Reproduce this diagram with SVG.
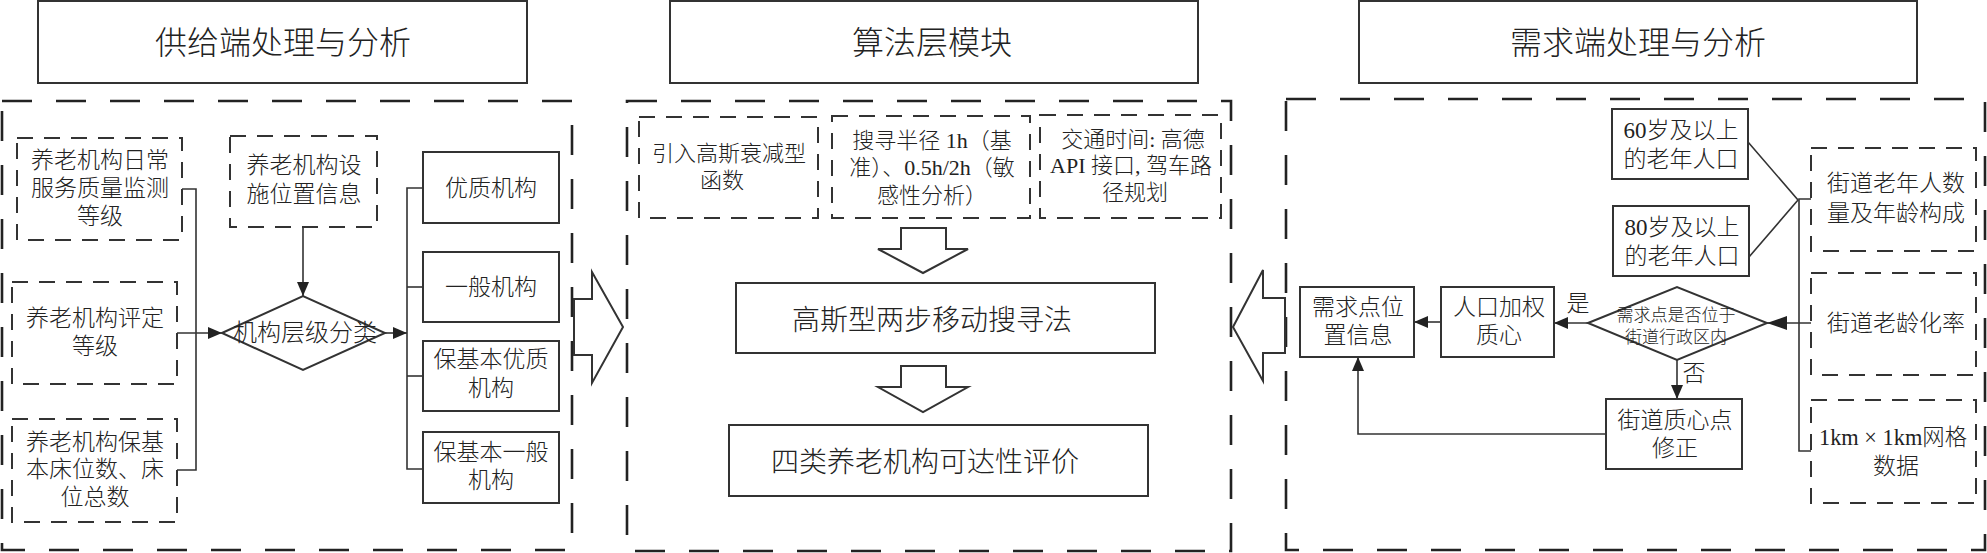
<svg xmlns="http://www.w3.org/2000/svg" width="1987" height="553" viewBox="0 0 1987 553">
<defs>
<style>
text { font-family: "Liberation Serif", "Noto Sans CJK SC", serif; font-weight:300; fill:#222; text-anchor:middle; dominant-baseline:central; }
.t32 { font-size:32px; }
.t28 { font-size:28px; }
.t24 { font-size:24px; }
.t23 { font-size:23px; }
.t22 { font-size:22px; }
.t17 { font-size:17px; }
.box { fill:#fff; stroke:#333; stroke-width:2; }
.outer { fill:none; stroke:#222; stroke-width:2.6; stroke-dasharray:30 24; }
.dbox { fill:none; stroke:#333; stroke-width:2; stroke-dasharray:16 11; }
.ln { fill:none; stroke:#333; stroke-width:1.6; }
.arr { marker-end:url(#ah); }
.arrb { marker-end:url(#ahb); }
.hollow { fill:#fff; stroke:#333; stroke-width:2; stroke-linejoin:miter; }
</style>
<marker id="ah" viewBox="0 0 14 12" refX="14" refY="6" markerWidth="14" markerHeight="12" markerUnits="userSpaceOnUse" orient="auto"><path d="M0,0 L14,6 L0,12 z" fill="#222"/></marker>
<marker id="ahb" viewBox="0 0 20 14" refX="20" refY="7" markerWidth="20" markerHeight="14" markerUnits="userSpaceOnUse" orient="auto"><path d="M0,0 L20,7 L0,14 z" fill="#222"/></marker>
</defs>
<rect width="1987" height="553" fill="#fff"/>

<!-- panels -->
<g id="panel-supply"><rect class="outer" x="2" y="101" width="570" height="449"/></g>
<g id="panel-algo"><rect class="outer" x="627" y="101" width="604" height="450"/></g>
<g id="panel-demand"><rect class="outer" x="1286" y="99" width="699" height="451"/></g>

<!-- titles -->
<g id="title-supply"><rect class="box" x="38" y="1" width="489" height="82"/><text class="t32" x="283" y="43">供给端处理与分析</text></g>
<g id="title-algo"><rect class="box" x="670" y="1" width="528" height="82"/><text class="t32" x="932" y="43">算法层模块</text></g>
<g id="title-demand"><rect class="box" x="1359" y="1" width="558" height="82"/><text class="t32" x="1638" y="43">需求端处理与分析</text></g>

<!-- connectors -->
<g id="connectors">
<polyline class="ln" points="182,189 196,189 196,470 177,470"/>
<line class="ln arr" x1="177" y1="333" x2="222" y2="333"/>
<line class="ln arr" x1="303" y1="227" x2="303" y2="296"/>
<line class="ln arr" x1="385" y1="333" x2="407" y2="333"/>
<polyline class="ln" points="423,188 407,188 407,469 423,469"/>
<line class="ln" x1="407" y1="287" x2="423" y2="287"/>
<line class="ln" x1="407" y1="376" x2="423" y2="376"/>
<polygon class="hollow" points="574,299 592,299 592,272 623,327 592,383 592,355 574,355"/>
<polygon class="hollow" points="901,228 946,228 946,249 968,249 923,273 878,249 901,249"/>
<polygon class="hollow" points="901,366 946,366 946,387 968,387 923,412 878,387 901,387"/>
<polygon class="hollow" points="1285,298 1263,298 1263,270 1233,327 1263,381 1263,353 1285,353"/>
<line class="ln arr" x1="1441" y1="322" x2="1414" y2="322"/>
<line class="ln arr" x1="1588" y1="323" x2="1554" y2="323"/>
<line class="ln arr" x1="1677" y1="360" x2="1677" y2="399"/>
<polyline class="ln arr" points="1606,434 1358,434 1358,357"/>
<line class="ln arrb" x1="1811" y1="323" x2="1767" y2="323"/>
<polyline class="ln" points="1748,142 1798,200 1749,257"/>
<polyline class="ln" points="1811,199 1799,199 1799,451 1811,451"/>
<text class="t23" x="1578" y="303">是</text>
<text class="t23" x="1694" y="373">否</text>
</g>

<!-- supply nodes -->
<g id="s-quality"><rect class="dbox" x="17" y="138" width="165" height="102"/><text class="t23" x="100" y="160">养老机构日常</text><text class="t23" x="100" y="188">服务质量监测</text><text class="t23" x="100" y="216">等级</text></g>
<g id="s-rating"><rect class="dbox" x="12" y="282" width="165" height="102"/><text class="t23" x="95" y="318">养老机构评定</text><text class="t23" x="95" y="346">等级</text></g>
<g id="s-beds"><rect class="dbox" x="12" y="419" width="165" height="103"/><text class="t23" x="95" y="442">养老机构保基</text><text class="t23" x="95" y="469">本床位数、床</text><text class="t23" x="95" y="497">位总数</text></g>
<g id="s-location"><rect class="dbox" x="230" y="136" width="147" height="91"/><text class="t23" x="304" y="165">养老机构设</text><text class="t23" x="304" y="194">施位置信息</text></g>
<g id="s-classify"><polygon class="box" points="222,333 303,296 385,333 303,370"/><text class="t24" x="305" y="333">机构层级分类</text></g>
<g id="s-c1"><rect class="box" x="423" y="152" width="136" height="71"/><text class="t23" x="491" y="188">优质机构</text></g>
<g id="s-c2"><rect class="box" x="423" y="252" width="136" height="70"/><text class="t23" x="491" y="287">一般机构</text></g>
<g id="s-c3"><rect class="box" x="423" y="341" width="136" height="70"/><text class="t23" x="491" y="359">保基本优质</text><text class="t23" x="491" y="388">机构</text></g>
<g id="s-c4"><rect class="box" x="423" y="432" width="136" height="71"/><text class="t23" x="491" y="452">保基本一般</text><text class="t23" x="491" y="480">机构</text></g>

<!-- algorithm nodes -->
<g id="a-gauss"><rect class="dbox" x="639" y="117" width="179" height="101"/><text class="t22" x="729" y="153">引入高斯衰减型</text><text class="t22" x="722" y="180">函数</text></g>
<g id="a-radius"><rect class="dbox" x="832" y="116" width="198" height="102"/><text class="t22" x="932" y="140">搜寻半径 1h（基</text><text class="t22" x="932" y="167">准）、0.5h/2h（敏</text><text class="t22" x="932" y="195">感性分析）</text></g>
<g id="a-traffic"><rect class="dbox" x="1040" y="115" width="181" height="103"/><text class="t22" x="1133" y="139">交通时间: 高德</text><text class="t22" x="1131" y="165">API 接口, 驾车路</text><text class="t22" x="1135" y="192">径规划</text></g>
<g id="a-2sfca"><rect class="box" x="736" y="283" width="419" height="70"/><text class="t28" x="932" y="320">高斯型两步移动搜寻法</text></g>
<g id="a-eval"><rect class="box" x="729" y="425" width="419" height="71"/><text class="t28" x="925" y="462">四类养老机构可达性评价</text></g>

<!-- demand nodes -->
<g id="d-point"><rect class="box" x="1300" y="287" width="114" height="70"/><text class="t23" x="1358" y="307">需求点位</text><text class="t23" x="1358" y="335">置信息</text></g>
<g id="d-weighted"><rect class="box" x="1441" y="287" width="113" height="70"/><text class="t23" x="1499" y="307">人口加权</text><text class="t23" x="1499" y="335">质心</text></g>
<g id="d-decision"><polygon class="box" points="1588,323 1677,287 1767,323 1677,360"/><text class="t17" x="1676" y="315">需求点是否位于</text><text class="t17" x="1676" y="337">街道行政区内</text></g>
<g id="d-centroid"><rect class="box" x="1606" y="399" width="136" height="70"/><text class="t23" x="1675" y="420">街道质心点</text><text class="t23" x="1675" y="448">修正</text></g>
<g id="d-60"><rect class="box" x="1612" y="109" width="136" height="70"/><text class="t23" x="1681" y="130">60岁及以上</text><text class="t23" x="1681" y="159">的老年人口</text></g>
<g id="d-80"><rect class="box" x="1613" y="206" width="136" height="70"/><text class="t23" x="1682" y="227">80岁及以上</text><text class="t23" x="1682" y="256">的老年人口</text></g>
<g id="d-elderly"><rect class="dbox" x="1811" y="148" width="165" height="103"/><text class="t23" x="1896" y="183">街道老年人数</text><text class="t23" x="1896" y="213">量及年龄构成</text></g>
<g id="d-aging"><rect class="dbox" x="1811" y="273" width="165" height="102"/><text class="t23" x="1896" y="323">街道老龄化率</text></g>
<g id="d-grid"><rect class="dbox" x="1811" y="400" width="165" height="103"/><text class="t23" x="1893" y="437" textLength="148" lengthAdjust="spacingAndGlyphs">1km × 1km网格</text><text class="t23" x="1896" y="466">数据</text></g>
</svg>
